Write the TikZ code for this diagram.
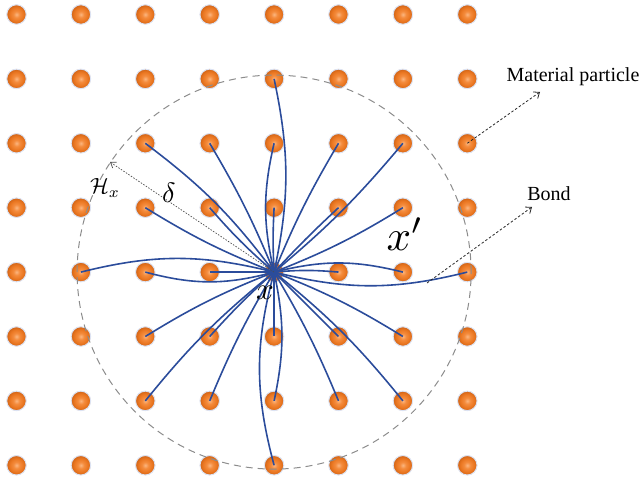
\documentclass[tikz,border=0pt]{standalone}
\usepackage{fontspec}
\setmainfont{Liberation Serif}
\usetikzlibrary{arrows.meta}

\definecolor{bondblue}{HTML}{2B4C9B}
\definecolor{pA}{HTML}{FBB680}
\definecolor{pB}{HTML}{F48C3E}
\definecolor{pC}{HTML}{EA7620}
\definecolor{pD}{HTML}{CF6418}
\definecolor{halo}{HTML}{DCE3F3}

% orange particle with a light centre and a darker rim
\pgfdeclareradialshading{particleshade}{\pgfpoint{0bp}{0bp}}{%
  color(0bp)=(pA); color(8bp)=(pB); color(18bp)=(pC); color(25bp)=(pD); color(50bp)=(pD)}

\tikzset{
  particle/.style={circle, inner sep=0pt, minimum size=19.5pt, shading=particleshade,
                   draw=halo, line width=1pt},
  bond/.style={draw=bondblue, line width=1.6pt},
  horizon/.style={draw=black!45, line width=1pt, dash pattern=on 7pt off 5pt},
  pointer/.style={draw=black!85, line width=0.8pt, dash pattern=on 2.5pt off 2pt,
                  -{Straight Barb[length=5pt,width=8pt]}},
  radius/.style={draw=black!70, line width=0.7pt, dash pattern=on 1.5pt off 1.5pt,
                 -{Straight Barb[length=5pt,width=7pt]}},
  caption/.style={font=\fontsize{20}{24}\selectfont, inner sep=0pt},
  sym/.style={inner sep=0pt}
}

\begin{document}
\begin{tikzpicture}[x=1pt,y=1pt]
\useasboundingbox (0,0) rectangle (641,484);

% lattice of material particles
\foreach \i in {0,...,7}{
  \foreach \j in {0,...,7}{
    \node[particle] (p\i\j) at ({16.5+64.4*\i},{469.5-64.4*\j}) {};
  }
}

% horizon of the centre particle
\draw[horizon] (p44.center) circle (197);

% bonds from the centre particle to every particle in its horizon
\foreach \dx/\dy/\b in {
   0/-3/-12,  0/-2/13,  0/-1/3,
  -1/-2/-4,  -2/-2/-8, -1/-1/4,  -2/-1/5,
   1/-2/4,    2/-2/-5,  1/-1/2,   2/-1/-5,
  -3/0/-14,  -2/0/15,  -1/0/0,
   1/0/5,     2/0/14,   3/0/-14,
   0/3/-15,   0/2/12,   0/1/0,
  -1/1/-3,   -2/1/-5,  -1/2/-4,  -2/2/-6,
   1/1/0,     2/1/5,    1/2/4,    2/2/6}{
  \pgfmathtruncatemacro{\ii}{4+\dx}
  \pgfmathtruncatemacro{\jj}{4+\dy}
  \draw[bond] (p44.center) to[bend left=\b] (p\ii\jj.center);
}

% horizon radius
\coordinate (hedge) at (110,322);
\draw[radius] (p44.center) -- (hedge);

% labels
\node[sym, scale=3.1] (lx) at (265,191) {$x$};
\node[sym, scale=4.3] (lxp) at (405,250) {$x'$};
\node[sym, scale=2.8] (ld) at (169,291) {$\delta$};
\node[sym, scale=2.2] (lh) at (105,296) {$\mathcal{H}_{x}$};

\node[caption] (mat) at (573,407) {Material particle};
\node[caption] (bnd) at (549,290) {Bond};

% call-outs
\coordinate (mtip) at (540,392);
\coordinate (bstart) at (427,201);
\coordinate (btip) at (532,277);
\draw[pointer] (p72.center) -- (mtip);
\draw[pointer] (bstart) -- (btip);
\end{tikzpicture}
\end{document}
